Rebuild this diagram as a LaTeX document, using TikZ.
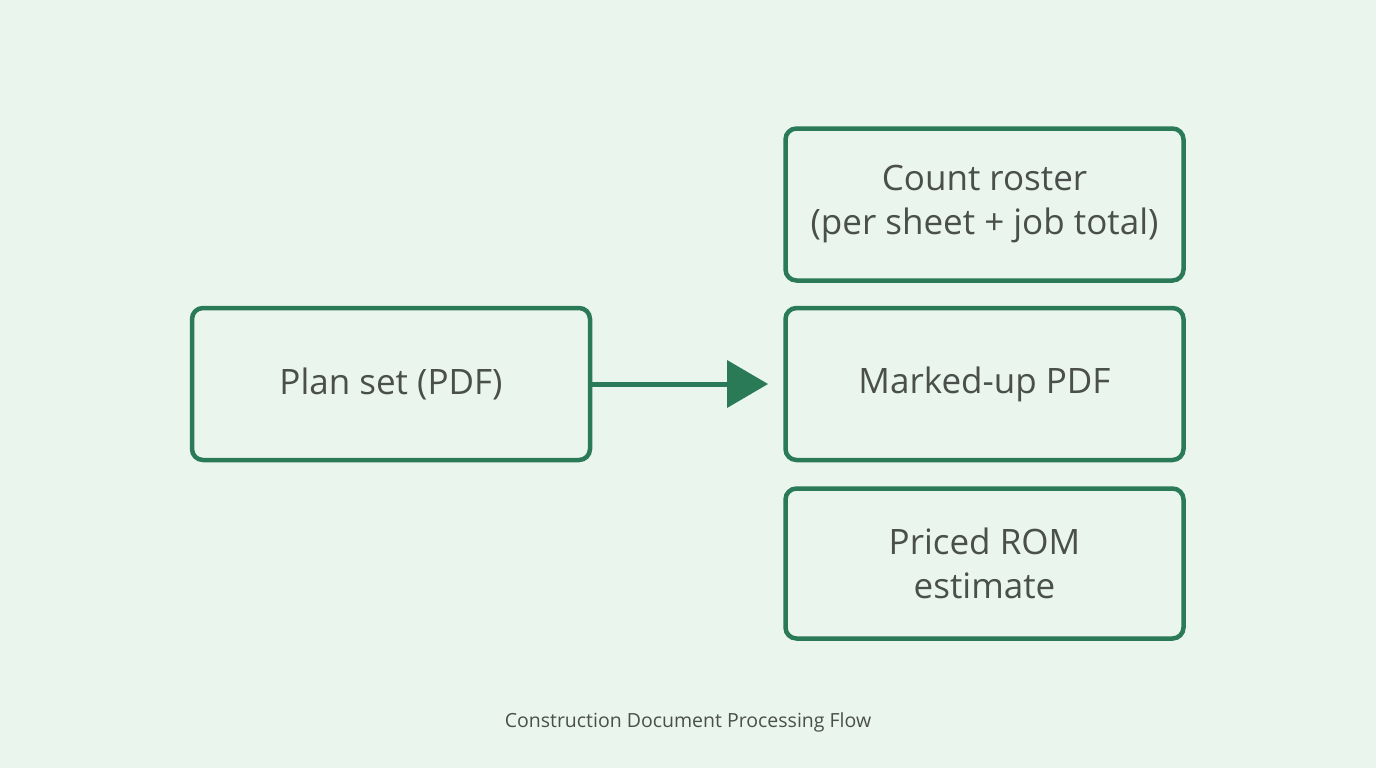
\documentclass[tikz,border=0pt]{standalone}
\usepackage{fontspec}
\setmainfont{Open Sans}
\definecolor{bg}{HTML}{EAF5EE}
\definecolor{gr}{HTML}{2B7A57}
\definecolor{tx}{HTML}{4A4F4C}
\begin{document}
\begin{tikzpicture}[x=1pt,y=-1pt,
 box/.style={draw=gr,line width=4.5pt,rounded corners=11pt,minimum width=398pt,inner sep=0pt,text=tx,font=\fontsize{35}{44}\selectfont,align=center}]
\fill[bg] (0,0) rectangle (1376,768);
\useasboundingbox (0,0) rectangle (1376,768);
\node[box,minimum height=152pt] (plan) at (391,384) {Plan set (PDF)};
\node[box,minimum height=152pt] (count) at (984.5,204.5) {Count roster\\(per sheet + job total)};
\node[box,minimum height=152pt] (mark) at (984.5,384) {Marked-up PDF};
\node[box,minimum height=150pt] (rom) at (984.5,563.5) {Priced ROM\\estimate};
\coordinate (tip) at (768,384);
\draw[gr,line width=5pt] (plan.east) -- (730,384);
\fill[gr] (tip) -- (727,360) -- (727,408) -- cycle;
\node[text=tx,font=\fontsize{19.5}{24}\selectfont] (cap) at (688,722) {Construction Document Processing Flow};
\end{tikzpicture}
\end{document}
